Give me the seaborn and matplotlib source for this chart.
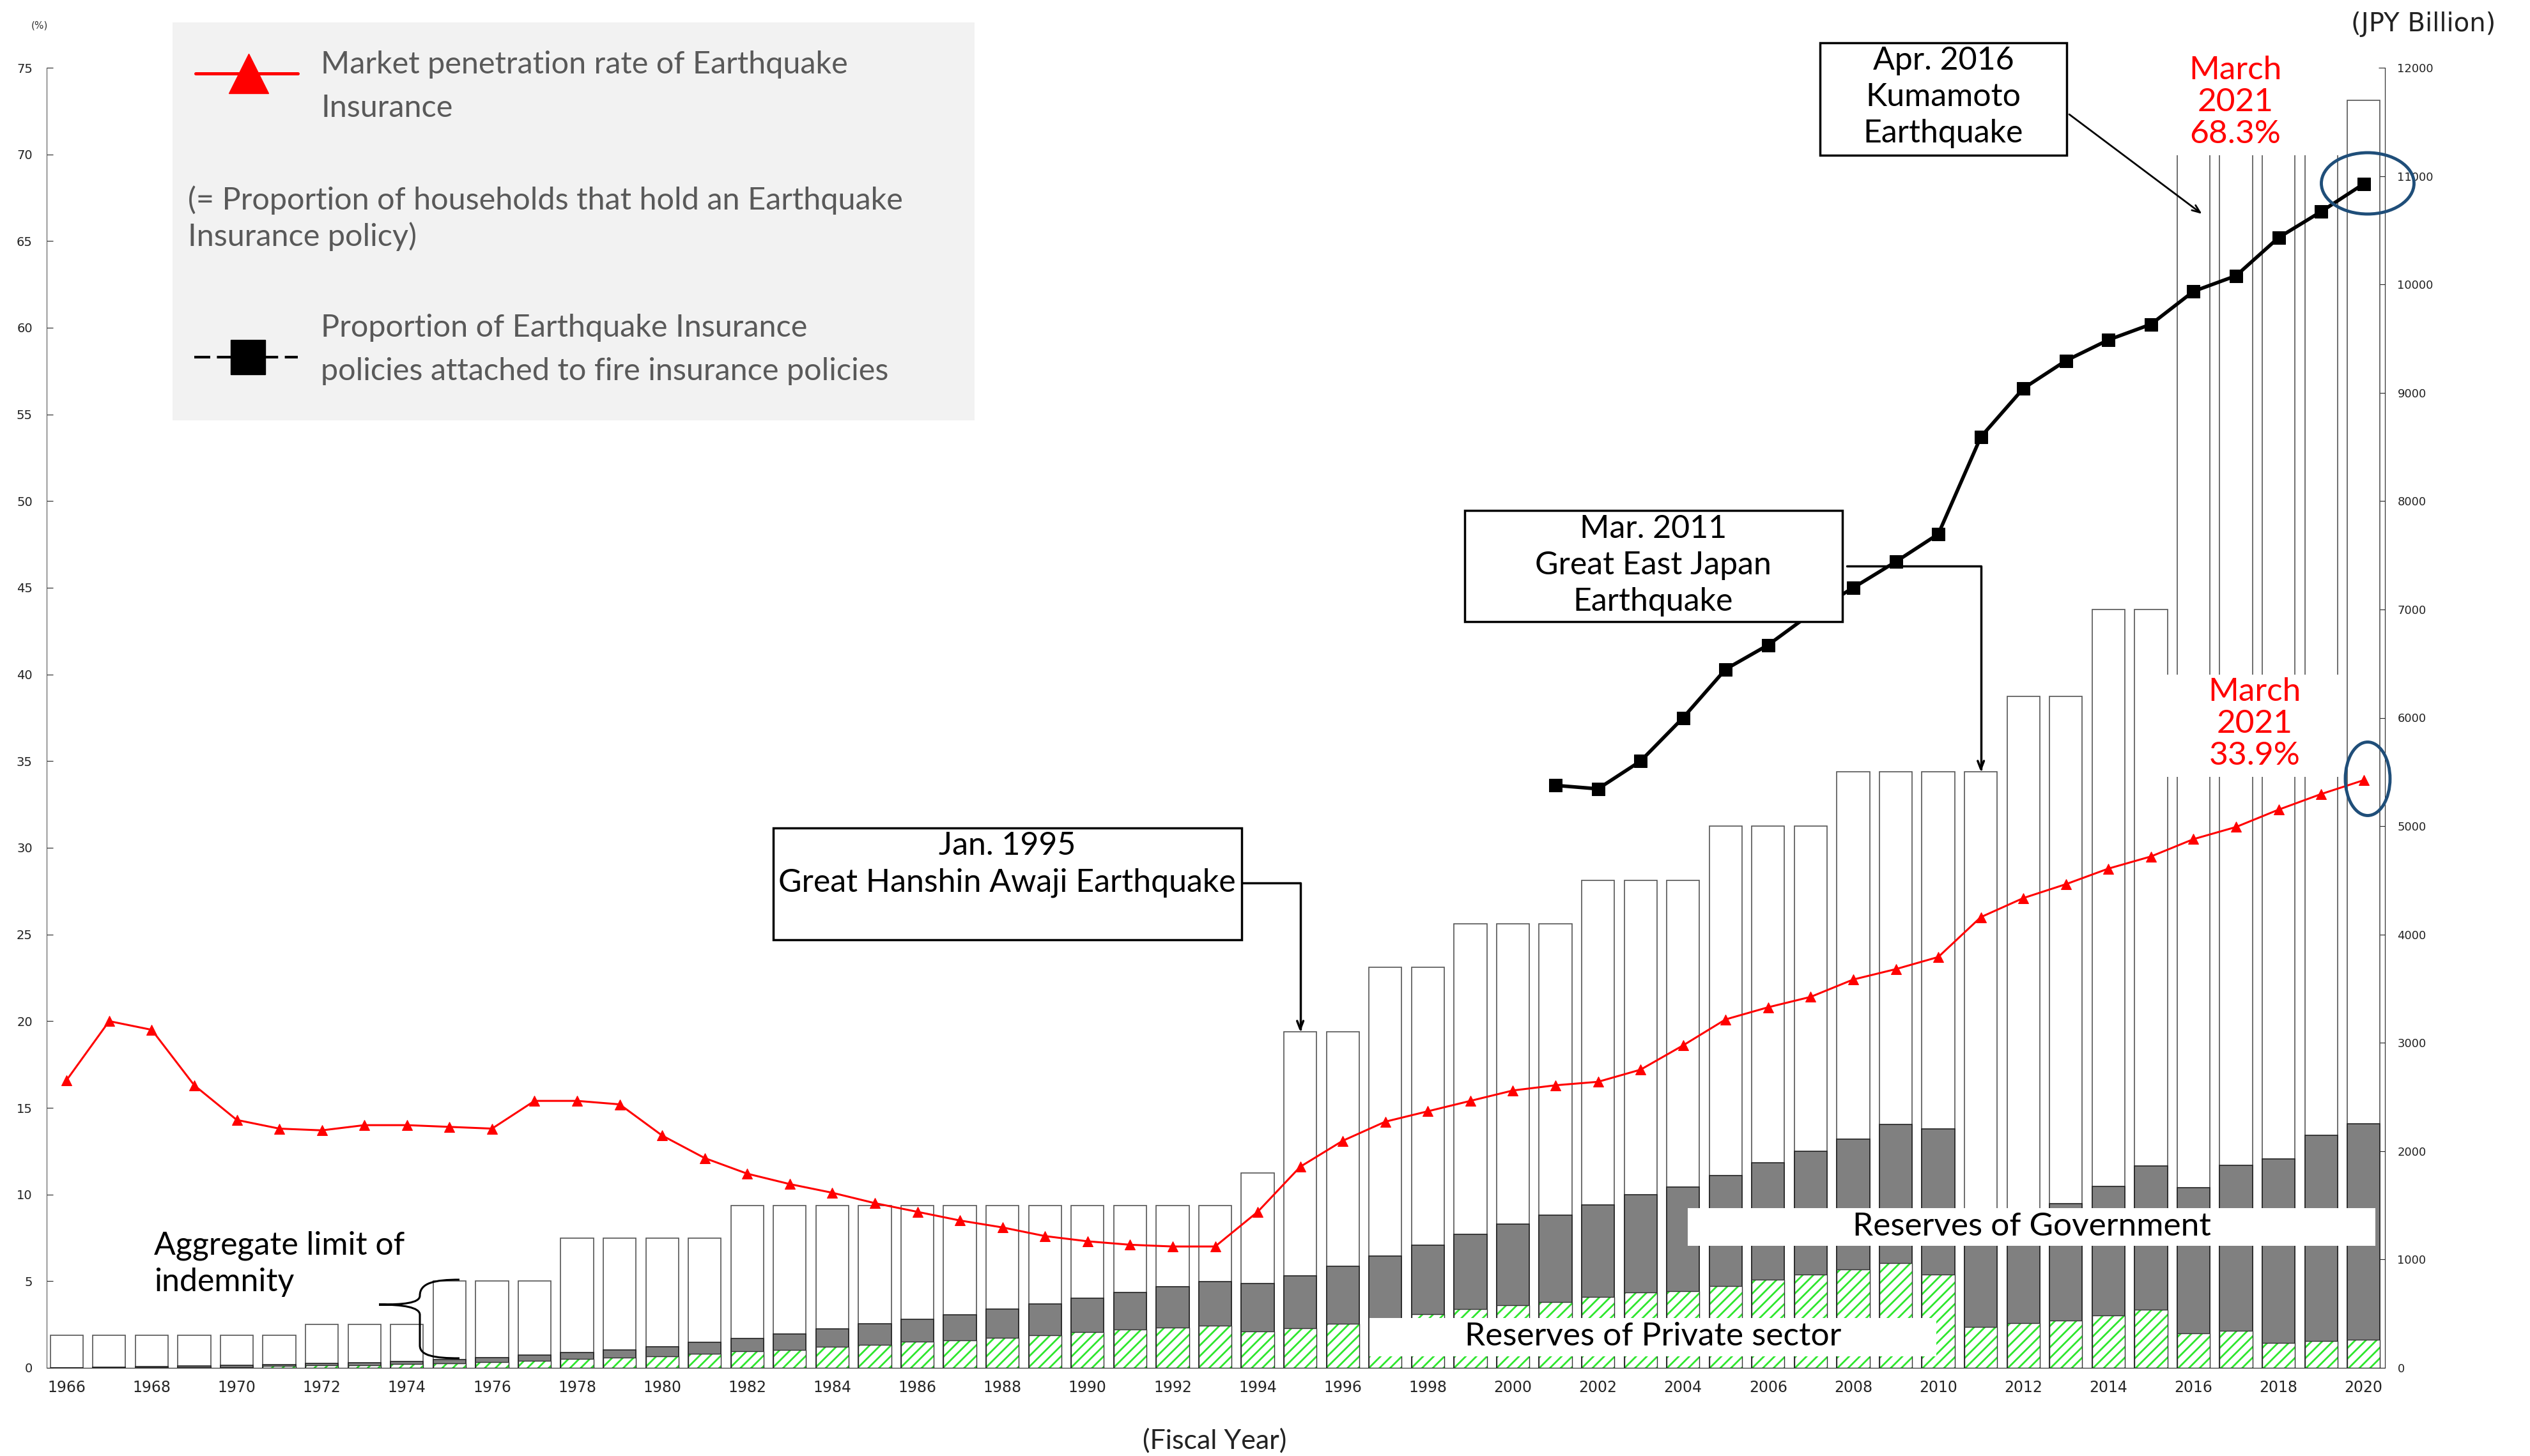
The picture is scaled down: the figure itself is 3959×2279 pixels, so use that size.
"""Earthquake insurance in Japan: aggregate limit, reserves and penetration"""

import matplotlib.pyplot as plt
import pandas as pd
import seaborn as sns
from matplotlib.lines import Line2D
from matplotlib.patches import Ellipse, PathPatch, Rectangle
from matplotlib.path import Path

years = list(range(1966, 2021))

# aggregate limit of indemnity (JPY billion)
limit = [300, 300, 300, 300, 300, 300, 400, 400, 400, 800,
         800, 800, 1200, 1200, 1200, 1200, 1500, 1500, 1500, 1500,
         1500, 1500, 1500, 1500, 1500, 1500, 1500, 1500, 1800, 3100,
         3100, 3700, 3700, 4100, 4100, 4100, 4500, 4500, 4500, 5000,
         5000, 5000, 5500, 5500, 5500, 5500, 6200, 6200, 7000, 7000,
         11300, 11300, 11300, 11300, 11700]

# reserves of private sector (JPY billion)
private = [0, 2, 4, 8, 8, 16, 24, 26, 33, 39,
           51, 65, 81, 92, 108, 128, 151, 167, 196, 214,
           240, 255, 279, 300, 328, 354, 371, 387, 334, 365,
           407, 450, 495, 542, 578, 607, 654, 695, 707, 754,
           813, 860, 908, 966, 860, 380, 412, 436, 483, 536,
           318, 342, 230, 247, 259]

# reserves of government (JPY billion)
government = [2, 3, 6, 12, 16, 13, 15, 23, 28, 38,
              43, 53, 58, 73, 88, 108, 122, 147, 163, 193,
              206, 236, 261, 289, 314, 341, 375, 407, 444, 484,
              530, 581, 636, 689, 748, 803, 849, 902, 961, 1020,
              1077, 1140, 1203, 1279, 1345, 920, 988, 1079, 1191, 1326,
              1344, 1526, 1697, 1898, 1992]

# market penetration rate (%)
penetration = [16.6, 20.0, 19.5, 16.3, 14.3, 13.8, 13.7, 14.0, 14.0, 13.9,
               13.8, 15.4, 15.4, 15.2, 13.4, 12.1, 11.2, 10.6, 10.1, 9.5,
               9.0, 8.5, 8.1, 7.6, 7.3, 7.1, 7.0, 7.0, 9.0, 11.6,
               13.1, 14.2, 14.8, 15.4, 16.0, 16.3, 16.5, 17.2, 18.6, 20.1,
               20.8, 21.4, 22.4, 23.0, 23.7, 26.0, 27.1, 27.9, 28.8, 29.5,
               30.5, 31.2, 32.2, 33.1, 33.9]

# attachment rate to fire insurance policies (%)
attached_years = list(range(2001, 2021))
attached = [33.6, 33.4, 35.0, 37.5, 40.3, 41.7, 43.5, 45.0, 46.5, 48.1,
            53.7, 56.5, 58.1, 59.3, 60.2, 62.1, 63.0, 65.2, 66.7, 68.3]

W, H = 3959, 2279


def fx(px):
    return px / W


def fy(py):
    return 1 - py / H


sns.set_style('white')
plt.rcParams['font.family'] = ['DejaVu Sans']
THIN = dict(family=['Lato', 'DejaVu Sans'], weight='normal')

df = pd.DataFrame({'year': years, 'limit': limit,
                   'private': private, 'government': government})
df['reserves'] = df['private'] + df['government']
att = pd.DataFrame({'year': attached_years, 'rate': attached})

fig = plt.figure(figsize=(W / 100, H / 100), dpi=100)
ax = fig.add_axes([fx(73), fy(2141), fx(3732) - fx(73), fy(106) - fy(2141)])
ax2 = ax.twinx()

# bars on the JPY billion axis
bw = 0.77
sns.barplot(data=df, x='year', y='limit', native_scale=True, width=bw,
            color='white', edgecolor='#555555', linewidth=1.2, saturation=1,
            errorbar=None, ax=ax, zorder=2)
sns.barplot(data=df, x='year', y='reserves', native_scale=True, width=bw,
            color='#808080', edgecolor='#222222', linewidth=1.2, saturation=1,
            errorbar=None, ax=ax, zorder=3)
plt.rcParams['hatch.linewidth'] = 2.0
sns.barplot(data=df, x='year', y='private', native_scale=True, width=bw,
            color='white', edgecolor='#2EE62E', hatch='//', linewidth=0,
            saturation=1, errorbar=None, ax=ax, zorder=4)
sns.barplot(data=df, x='year', y='private', native_scale=True, width=bw,
            color='#333333', fill=False, linewidth=1.0, saturation=1,
            errorbar=None, ax=ax, zorder=5)

# lines on the % axis
sns.lineplot(x=years, y=penetration, color='red', marker='^', markersize=12,
             markeredgecolor='red', linewidth=2.2, ax=ax2)
sns.lineplot(data=att, x='year', y='rate', color='black', marker='s',
             markersize=14, markeredgecolor='black', linewidth=4, ax=ax2)

ax.set_xlim(1965.53, 2020.5)
ax.set_ylim(0, 12000)
ax2.set_ylim(0, 75)
ax.set_xlabel('')
ax.set_ylabel('')
ax2.set_xlabel('')
ax2.set_ylabel('')

ax.yaxis.tick_right()
ax.set_yticks(range(0, 12001, 1000))
ax.tick_params(axis='y', direction='in', length=7, pad=14, labelsize=13,
               colors='#222222')
ax2.yaxis.tick_left()
ax2.set_yticks(range(0, 76, 5))
ax2.tick_params(axis='y', direction='in', length=7, pad=16, labelsize=14,
                colors='#222222')

ax.set_xticks(range(1966, 2021, 2))
ax.set_xticks([y + 0.5 for y in years[:-1]], minor=True)
ax.tick_params(axis='x', which='major', length=0, pad=14, labelsize=17)
ax.tick_params(axis='x', which='minor', direction='in', length=7,
               color='#888888', width=1)
ax.grid(False)
ax2.grid(False)

for a in (ax, ax2):
    a.spines['top'].set_visible(False)
ax.spines['left'].set_visible(False)
ax2.spines['right'].set_visible(False)
ax2.spines['bottom'].set_visible(False)
ax2.spines['left'].set_color('#555555')
ax.spines['right'].set_color('#222222')
ax.spines['bottom'].set_color('#222222')

# axis captions
fig.text(fx(62), fy(40), '(%)', ha='center', va='center', fontsize=11,
         color='#333333')
fig.text(fx(3792), fy(38), '(JPY Billion)', ha='center', va='center',
         fontsize=29, color='#222222')
fig.text(fx(1901), fy(2255), '(Fiscal Year)', ha='center', va='center',
         fontsize=31, color='#222222', **THIN)

# legend panel
fig.add_artist(Rectangle((fx(270), fy(658)), fx(1525) - fx(270),
                         fy(35) - fy(658), transform=fig.transFigure,
                         facecolor='#F2F2F2', edgecolor='none', zorder=2))
fig.add_artist(Line2D([fx(306), fx(389), fx(466)], [fy(115)] * 3,
                      transform=fig.transFigure, color='red', lw=3.6,
                      marker='^', markevery=[1], markersize=45,
                      markeredgecolor='red', zorder=3))
fig.add_artist(Line2D([fx(304), fx(466)], [fy(559)] * 2,
                      transform=fig.transFigure, color='black', lw=3,
                      dashes=(6, 2.5), zorder=3))
fig.add_artist(Line2D([fx(388)], [fy(559)], transform=fig.transFigure,
                      color='black', marker='s', markersize=39, lw=0,
                      zorder=4))
legend_grey = '#595959'
fig.text(fx(502), fy(135), 'Market penetration rate of Earthquake\nInsurance',
         ha='left', va='center', fontsize=35, color=legend_grey,
         linespacing=1.65, **THIN)
fig.text(fx(294), fy(342),
         '(= Proportion of households that hold an Earthquake\nInsurance policy)',
         ha='left', va='center', fontsize=35, color=legend_grey,
         linespacing=1.3, **THIN)
fig.text(fx(502), fy(547),
         'Proportion of Earthquake Insurance\npolicies attached to fire insurance policies',
         ha='left', va='center', fontsize=35, color=legend_grey,
         linespacing=1.65, **THIN)

# event boxes
events = [
    ((1210, 1296, 1943, 1471), (1576, 1353), 'Jan. 1995\nGreat Hanshin Awaji Earthquake'),
    ((2292, 799, 2883, 973), (2587, 885), 'Mar. 2011\nGreat East Japan\nEarthquake'),
    ((2848, 67, 3234, 243), (3041, 152), 'Apr. 2016\nKumamoto\nEarthquake'),
]
for (x0, y0, x1, y1), (tx, ty), label in events:
    fig.add_artist(Rectangle((fx(x0), fy(y1)), fx(x1) - fx(x0), fy(y0) - fy(y1),
                             transform=fig.transFigure, facecolor='white',
                             edgecolor='black', lw=2.5, zorder=2))
    fig.text(fx(tx), fy(ty), label, ha='center', va='center', fontsize=36,
             color='black', linespacing=1.3, zorder=3, **THIN)

arrow = dict(arrowstyle='->,head_length=0.9,head_width=0.35', lw=2.5,
             color='black', shrinkA=0, shrinkB=0)
ax.annotate('', xy=(1995, 3100), xytext=(fx(1943), fy(1382)),
            textcoords='figure fraction',
            arrowprops=dict(arrow, connectionstyle='angle,angleA=0,angleB=90,rad=0'))
ax.annotate('', xy=(2011, 5500), xytext=(fx(2890), fy(886)),
            textcoords='figure fraction',
            arrowprops=dict(arrow, connectionstyle='angle,angleA=0,angleB=90,rad=0'))
ax.annotate('', xy=(2016.2, 10650), xytext=(fx(3238), fy(179)),
            textcoords='figure fraction', arrowprops=dict(arrow, lw=2))

# series labels on the bars
for (x0, y0, x1, y1), (tx, ty), label in [
        ((2641, 1891, 3717, 1950), (3179, 1920), 'Reserves of Government'),
        ((2143, 2063, 3030, 2123), (2587, 2092), 'Reserves of Private sector')]:
    fig.add_artist(Rectangle((fx(x0), fy(y1)), fx(x1) - fx(x0), fy(y0) - fy(y1),
                             transform=fig.transFigure, facecolor='white',
                             edgecolor='none', zorder=2))
    fig.text(fx(tx), fy(ty), label, ha='center', va='center', fontsize=37,
             color='black', zorder=3, **THIN)

fig.text(fx(241), fy(1978), 'Aggregate limit of\nindemnity', ha='left',
         va='center', fontsize=36, color='black', linespacing=1.3, **THIN)
brace = Path(
    [(719, 2003), (680, 2003), (657, 2008), (657, 2028),
     (657, 2040), (630, 2042), (593, 2042),
     (630, 2042), (657, 2046), (657, 2058),
     (657, 2106),
     (657, 2122), (680, 2126), (719, 2126)],
    [Path.MOVETO, Path.CURVE4, Path.CURVE4, Path.CURVE4,
     Path.CURVE4, Path.CURVE4, Path.CURVE4,
     Path.CURVE4, Path.CURVE4, Path.CURVE4,
     Path.LINETO,
     Path.CURVE4, Path.CURVE4, Path.CURVE4])
brace = Path([(fx(px), fy(py)) for px, py in brace.vertices], brace.codes)
fig.add_artist(PathPatch(brace, transform=fig.transFigure, facecolor='none',
                         edgecolor='black', lw=2.2, zorder=3))

# March 2021 call-outs
for (x0, y0, x1, y1), (tx, ty), label in [
        ((3390, 75, 3665, 243), (3498, 160), 'March\n2021\n68.3%'),
        ((3390, 1056, 3665, 1216), (3528, 1133), 'March\n2021\n33.9%')]:
    fig.add_artist(Rectangle((fx(x0), fy(y1)), fx(x1) - fx(x0), fy(y0) - fy(y1),
                             transform=fig.transFigure, facecolor='white',
                             edgecolor='none', zorder=2))
    fig.text(fx(tx), fy(ty), label, ha='center', va='center', fontsize=37,
             color='#FF0000', linespacing=1.12, zorder=3, **THIN)

for (cx, cy), (w, h) in [((3705, 287), (145, 96)), ((3705, 1219), (70, 115))]:
    fig.add_artist(Ellipse((fx(cx), fy(cy)), w / W, h / H,
                           transform=fig.transFigure, facecolor='none',
                           edgecolor='#1F4E79', lw=3.5, zorder=4))

fig.savefig('out.png', dpi=100)
